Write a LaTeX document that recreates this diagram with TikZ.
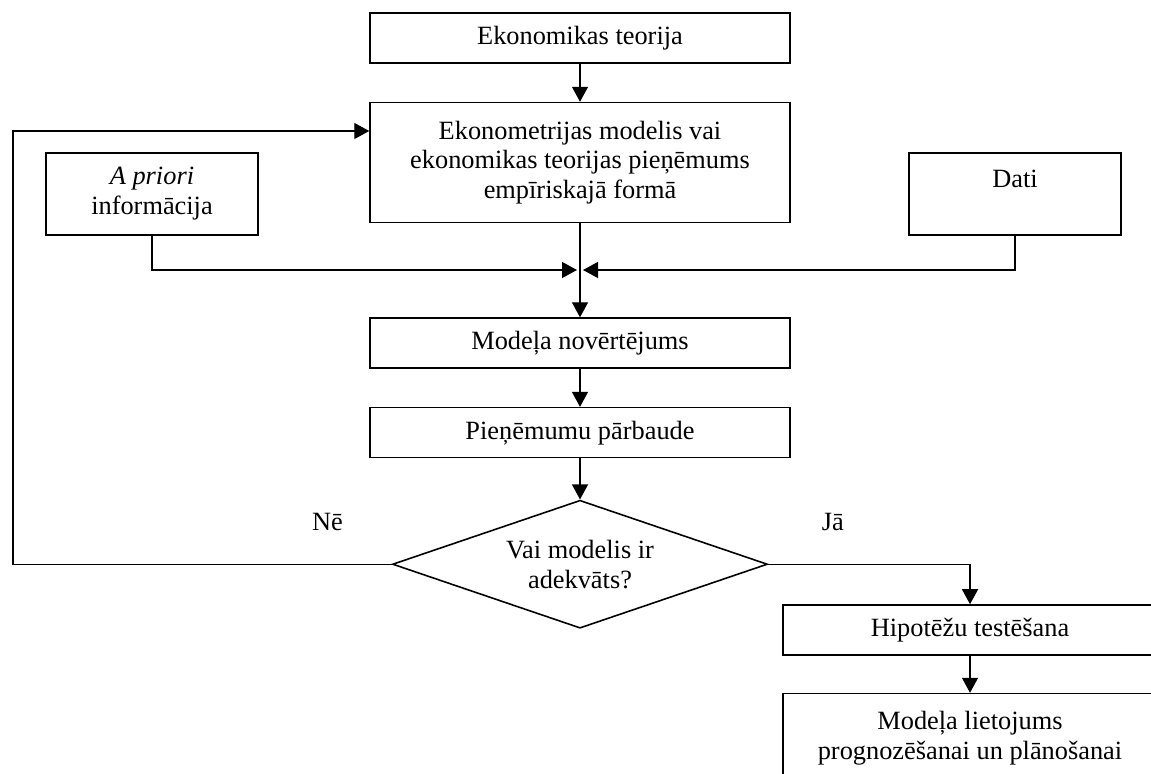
\documentclass[tikz,border=0pt]{standalone}
\usepackage{fontspec}
\setmainfont{Liberation Serif}
\usetikzlibrary{shapes.geometric, arrows.meta, positioning}

\begin{document}
\begin{tikzpicture}[
    x=0.02cm, y=-0.02cm,
    box/.style={rectangle, draw, line width=0.9pt, minimum width=8.4cm, minimum height=1cm, align=center, inner sep=2pt, font=\fontsize{15}{17}\selectfont},
    sidebox/.style={box, minimum width=4.24cm, minimum height=1.64cm},
    choice/.style={diamond, draw, line width=0.9pt, aspect=2.9, inner sep=0pt, minimum width=7.5cm, minimum height=2.56cm, align=center, font=\fontsize{15}{17}\selectfont},
    arrow/.style={-{Triangle[length=0.3cm, width=0.32cm]}, line width=0.7pt},
    lbl/.style={font=\fontsize{15}{17}\selectfont}
]
    \useasboundingbox (0,0) rectangle (1151,773);
    \clip (0,0) rectangle (1151,773);

    % Main chain
    \node[box] (teorija) at (580,38) {Ekonomikas teorija};
    \node[box, minimum height=2.4cm, below=0.76cm of teorija] (modelis) {Ekonometrijas modelis vai\\ekonomikas teorijas pieņēmums\\empīriskajā formā};
    \node[box, below=1.88cm of modelis] (novert) {Modeļa novērtējums};
    \node[box, below=0.76cm of novert] (parb) {Pieņēmumu pārbaude};
    \node[choice, below=0.82cm of parb] (adekv) {Vai modelis ir\\adekvāts?};

    % Side inputs
    \node[sidebox] (apriori) at (152,194) {\textit{A priori}\\informācija};
    \node[sidebox] (dati) at (1015,194) {Dati\\\mbox{}};
    \coordinate (merge) at (580,270);

    % Yes branch
    \node[box, minimum width=7.48cm] (hipo) at (970,630) {Hipotēžu testēšana};
    \node[box, minimum width=7.48cm, minimum height=1.8cm, below=0.74cm of hipo] (lietojums) {Modeļa lietojums\\prognozēšanai un plānošanai};

    % Arrows
    \draw[arrow] (teorija) -- (modelis);
    \draw[arrow] (modelis) -- (novert);
    \draw[arrow] (apriori.south) |- ([xshift=-0.06cm]merge);
    \draw[arrow] (dati.south) |- ([xshift=0.06cm]merge);
    \draw[arrow] (novert) -- (parb);
    \draw[arrow] (parb) -- (adekv);

    % Feedback loop
    \coordinate (loop) at (13,131);
    \draw[arrow] (adekv.west) -- node[lbl, pos=0.17, yshift=0.85cm] {Nē} (adekv.west -| loop) -- (loop) -- (loop -| modelis.west);
    \draw[arrow] (adekv.east) -| node[lbl, pos=0.16, yshift=0.85cm] {Jā} (hipo.north);
    \draw[arrow] (hipo) -- (lietojums);
\end{tikzpicture}
\end{document}
